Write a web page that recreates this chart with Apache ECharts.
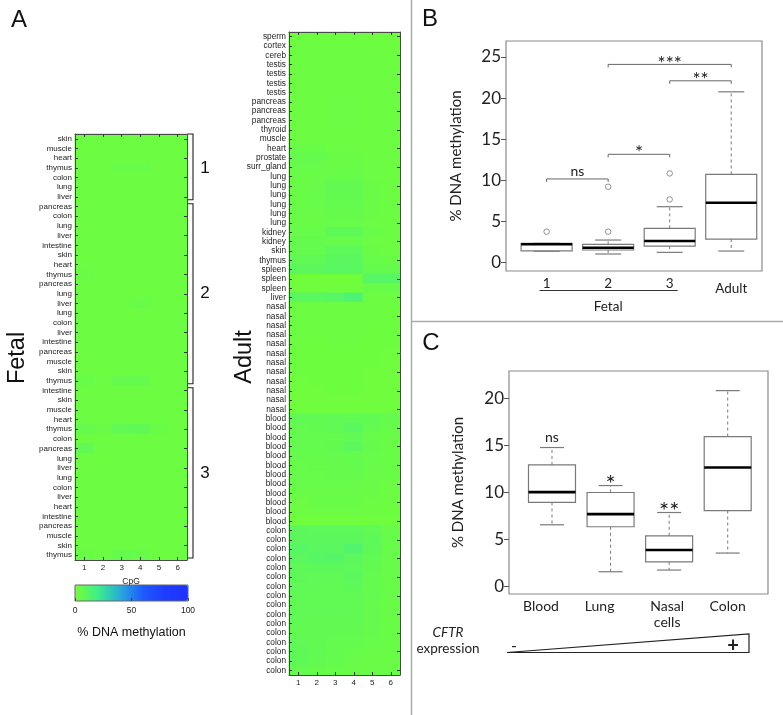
<!DOCTYPE html>
<html><head><meta charset="utf-8">
<script src="https://cdn.jsdelivr.net/npm/echarts@6/dist/echarts.min.js"></script>
<style>html,body{margin:0;padding:0;background:#fff}#c{width:783px;height:715px}</style>
</head><body><div id="c"></div>
<script>
// ---------------- DATA ----------------
const cpgLabels = ['1','2','3','4','5','6'];
const fetalRows = ['skin','muscle','heart','thymus','colon','lung','liver',
 'pancreas','colon','lung','liver','intestine','skin','heart','thymus','pancreas','lung','liver','lung','colon','liver','intestine','pancreas','muscle','skin','thymus',
 'intestine','skin','muscle','heart','thymus','colon','pancreas','lung','liver','lung','colon','liver','heart','intestine','pancreas','muscle','skin','thymus'];
const fetalGroupSizes = [7,19,18];
const fetalGroupLabels = ['1','2','3'];
const fetalValues = [
 [3,3,3,3,3,3],[3,3,3,3,3,3],[3,3,3,3.5,3,3],[3,3,4.5,5,3,3],[3,3,3,3,3,3],[3,3,3,3,3,3],[3,3,3,3,3,3],
 [3,3,3,3,3,3],[3,3,3,3,3,3],[3,3,3,3,3,3],[3,3,3,3,3,3],[3,3,3,3,3,3],[3,3,3,3,3,3],[3,3,3,3,3,3],[4,3,3,3,3,3],[3,3,3,3,3,3],[3,3,3,3,3,3],[3,3,3,5,3,3],[3,3,3,3,3,3],[3,3,3,3,3,3],[3,3,3,3,3,3],[3,3,3,3,3,3],[3,3,3,3,3,3],[3,3,3,3,3,3],[3,3,3,3,3,3],[5,3.5,6,6,3,3],
 [3,3,3,3,3,3],[3,3,3,3,3,3],[3,3,3,3,3,3],[3,3,3,3,3,3],[6,4,7,8,4,3],[3,3,3,3,3,3],[7,3.5,3,3,3,3],[3,3,3,3,3,3],[3,3,3,3,3,3],[3,3,3,3,3,3],[3,3,3,3,3,3],[3,3,3,3,3,3],[3,3,3,3,3,3],[3,3,3,3,3,3],[3,3,3,3,3,3],[3,3,3,3,3,3],[3,3,3,3,3,3],[4,3.5,6,5,3,3]
];
const adultRows = ['sperm','cortex','cereb','testis','testis','testis','testis','pancreas','pancreas','pancreas','thyroid','muscle','heart','prostate','surr_gland',
 'lung','lung','lung','lung','lung','lung','kidney','kidney','skin','thymus','spleen','spleen','spleen','liver',
 'nasal','nasal','nasal','nasal','nasal','nasal','nasal','nasal','nasal','nasal','nasal','nasal',
 'blood','blood','blood','blood','blood','blood','blood','blood','blood','blood','blood','blood',
 'colon','colon','colon','colon','colon','colon','colon','colon','colon','colon','colon','colon','colon','colon','colon','colon'];
const adultValues = [
 [2.5,2.5,3,3,2.5,2.5],[3,3,3,3,3,2.5],[3,3,3,3,3,2.5],[3,3,3,3,3,3],[3,3,3,3,3,3],[3,3,3,3,3,3],[3,3,3,3,3,3],
 [3,3,3.5,3.5,3,3],[3,3,3.5,3.5,3,3],[3,3,3.5,3.5,3,3],[3,3,3,3,3,3],[3,3,3,3,3,3],[4,4,3.5,3.5,3,3],[6,6,4,4,3,3],[5,5,4,4,3.5,3],
 [4,4,5,5,3.5,3],[4,5,6.5,6.5,4,3],[4,5,6.5,6.5,4,3],[4,5,6,6,4,3],[4,4.5,5.5,5.5,4,3],[4,4,5,5,3.5,3],
 [5,5,8,8,4,3],[6,6,5,5,3.5,3],[6,6,8.5,8.5,4,3],[7,7,9.5,9.5,5,4],[9,9,10,10,6,6],[1.5,1.5,1.5,1.5,11,11],[2,2,2,2,5,5],[10,10,11,14,3,3],
 [3,3,3,3,3,2.5],[3,3,3,3,3,2.5],[3,3,3,3,3,2.5],[3,3,3,3,2.5,2.5],[2.5,2.5,3,3,2.5,2.5],[2.5,2.5,2.5,2.5,2.5,2],[2.5,2.5,2.5,2.5,2.5,2],[2.5,2.5,2.5,2.5,2,2],[2,2.5,2.5,2.5,2,2],[2,2,2.5,2.5,2,2],[2,2,2,2,2,2],[2,2,2,2,2,2],
 [7,7,7,7,7,6],[6,6.5,7,10,6,5],[6,6,6,7,5,4],[6,6,6.5,9,5.5,4],[5.5,5.5,6,6,5,4],[5,5.5,5.5,6,5,4],[5,5,5.5,5.5,4.5,4],[5,5,5,5,4.5,3.5],[4,4,4.5,4.5,4,3],[3.5,4,4,4,3.5,3],[3,3.5,3.5,3.5,3,2.5],[2,2,2,2,2,2],
 [9,8.5,8.5,8.5,7,5],[9,9,9,9,8,5],[11,9.5,9.5,13,8,5],[9,11,12,9,7,5],[8,8.5,8.5,8.5,6.5,4.5],[8,7.5,7.5,9,6,4.5],[7.5,7,7,8,6,4.5],[7,7,7,7.5,6,4.5],
 [7,7,7,7,5.5,4],[7,7,7,7,5.5,4],[7,6.5,6.5,7,5.5,4],[6.5,6.5,6.5,6.5,5.5,4],[7.5,6.5,6,6,5,4],[8,7,6,5,4.5,4],[8,6.5,6,5,4.5,4],[6,5.5,5,4.5,4,4]
];
const colorScaleTicks = [0,50,100];

// Panel B
const bCats = ['1','2','3','Adult'];
const bMin = [1.35, 1.01, 1.21, 1.37];
const bQ1  = [1.40, 1.50, 1.98, 2.83];
const bMed = [2.19, 1.78, 2.59, 7.25];
const bQ3  = [2.31, 2.19, 4.13, 10.70];
const bMax = [2.31, 2.71, 6.77, 20.76];
const bOutlierGroup = [1, 2, 2, 3, 3];
const bOutlierValue = [3.73, 3.73, 9.2, 7.66, 10.82];
const bSigFrom = [1, 2, 2, 3];
const bSigTo   = [2, 3, 4, 4];
const bSigLevel = [10.15, 13.15, 24.1, 22.1];
const bSigText = ['ns', '*', '***', '**'];
const bTicks = [0,5,10,15,20,25];

// Panel C
const cCats = ['Blood', 'Lung', 'Nasal\ncells', 'Colon'];
const cMin = [6.52, 1.52, 1.70, 3.51];
const cQ1  = [8.90, 6.31, 2.58, 8.04];
const cMed = [10.0, 7.66, 3.83, 12.62];
const cQ3  = [12.9, 9.96, 5.35, 15.92];
const cMax = [14.75, 10.7, 7.83, 20.81];
const cSig = ['ns', '*', '**', ''];
const cTicks = [0,5,10,15,20];

// ---------------- CHART ----------------
const chart = echarts.init(document.getElementById('c'), null, {renderer: 'canvas'});
const HF = 'Liberation Sans';
const BF = 'Lato';

const fetalData = [];
fetalValues.forEach((row, r) => row.forEach((v, c) => fetalData.push([c, r, v])));
const adultData = [];
adultValues.forEach((row, r) => row.forEach((v, c) => adultData.push([c, r, v])));

function hmAxes(grid, rows, labelSize) {
  const tick = {show: true, inside: true, length: 3, alignWithLabel: true, lineStyle: {color: '#333'}};
  const line = {show: true, lineStyle: {color: '#4a4a4a', width: 1}};
  return {
    x: [
      {gridIndex: grid, type: 'category', data: cpgLabels, position: 'bottom', axisLine: line, axisTick: tick, z: 5,
       axisLabel: {fontFamily: HF, fontSize: 8, color: '#222', margin: 4}, splitLine: {show: false}},
      {gridIndex: grid, type: 'category', data: cpgLabels, position: 'top', axisLine: line, axisTick: tick, z: 5,
       axisLabel: {show: false}, splitLine: {show: false}}
    ],
    y: [
      {gridIndex: grid, type: 'category', data: rows, inverse: true, position: 'left', axisLine: line, axisTick: tick, z: 5,
       axisLabel: {fontFamily: HF, fontSize: labelSize, color: '#222', margin: 3, interval: 0}, splitLine: {show: false}},
      {gridIndex: grid, type: 'category', data: rows, inverse: true, position: 'right', axisLine: line, axisTick: tick, z: 5,
       axisLabel: {show: false}, splitLine: {show: false}}
    ]
  };
}
const fa = hmAxes(0, fetalRows, 8);
const aa = hmAxes(1, adultRows, 8.3);
fa.x[0].name = 'CpG'; fa.x[0].nameLocation = 'middle'; fa.x[0].nameGap = 14;
fa.x[0].nameTextStyle = {fontFamily: HF, fontSize: 8.5, color: '#222'};

function cellSeries(xi, yi, data) {
  return {
    type: 'custom', xAxisIndex: xi, yAxisIndex: yi, data: data, silent: true,
    renderItem: function (params, api) {
      const p = api.coord([api.value(0), api.value(1)]);
      const s = api.size([1, 1]);
      return {type: 'rect', shape: {x: p[0] - s[0] / 2 - 0.4, y: p[1] - s[1] / 2 - 0.4, width: s[0] + 0.8, height: s[1] + 0.8},
        style: {fill: api.visual('color'), stroke: null}};
    }
  };
}

function boxSeries(xi, yi, cats, mn, q1, md, q3, mx, halfW, capHalf, labelFont, labelDy, labelDx, sig, sigFont) {
  const data = cats.map((c, i) => [i + 1, mn[i], q1[i], md[i], q3[i], mx[i]]);
  return {
    type: 'custom', xAxisIndex: xi, yAxisIndex: yi, data: data, clip: false, silent: true,
    renderItem: function (params, api) {
      const i = params.dataIndex;
      const x = api.value(0);
      const pMin = api.coord([x, api.value(1)]);
      const pQ1 = api.coord([x, api.value(2)]);
      const pMed = api.coord([x, api.value(3)]);
      const pQ3 = api.coord([x, api.value(4)]);
      const pMax = api.coord([x, api.value(5)]);
      const cx = pMed[0];
      const gray = '#7a7a7a';
      const cs = params.coordSys;
      const children = [
        {type: 'line', shape: {x1: cx, y1: pQ3[1], x2: cx, y2: pMax[1]}, style: {stroke: gray, lineWidth: 1, lineDash: [3, 3]}},
        {type: 'line', shape: {x1: cx, y1: pQ1[1], x2: cx, y2: pMin[1]}, style: {stroke: gray, lineWidth: 1, lineDash: [3, 3]}},
        {type: 'line', shape: {x1: cx - capHalf, y1: pMax[1], x2: cx + capHalf, y2: pMax[1]}, style: {stroke: gray, lineWidth: 1.2}},
        {type: 'line', shape: {x1: cx - capHalf, y1: pMin[1], x2: cx + capHalf, y2: pMin[1]}, style: {stroke: gray, lineWidth: 1.2}},
        {type: 'rect', shape: {x: cx - halfW, y: pQ3[1], width: 2 * halfW, height: pQ1[1] - pQ3[1]}, style: {fill: '#fff', stroke: gray, lineWidth: 1.2}},
        {type: 'line', shape: {x1: cx - halfW, y1: pMed[1], x2: cx + halfW, y2: pMed[1]}, style: {stroke: '#000', lineWidth: 2.6}},
        {type: 'text', x: cx + labelDx[i], y: cs.y + cs.height + labelDy[i], style: {text: cats[i], fontFamily: BF, fontSize: labelFont, fill: '#222', align: 'center', verticalAlign: 'top', lineHeight: 16}}
      ];
      if (sig && sig[i]) {
        const isStar = sig[i].indexOf('*') >= 0;
        children.push({type: 'text', x: cx, y: pMax[1] - (isStar ? 1 : 10),
          style: {text: sig[i], fontFamily: BF, fontSize: isStar ? sigFont : 14, fill: '#222', align: 'center', verticalAlign: 'middle'}});
      }
      return {type: 'group', children: children};
    }
  };
}

function valueAxisY(grid, min, max, ticks, name, nameGap) {
  return {gridIndex: grid, type: 'value', min: min, max: max,
    axisLine: {show: false},
    axisTick: {show: true, inside: false, length: 5, customValues: ticks, lineStyle: {color: '#555'}},
    axisLabel: {customValues: ticks, fontFamily: BF, fontSize: 17, color: '#222', margin: 5},
    splitLine: {show: false},
    name: name, nameLocation: 'middle', nameGap: nameGap, nameRotate: 90,
    nameTextStyle: {fontFamily: BF, fontSize: 15, color: '#222'}};
}
function valueAxisX(grid, min, max) {
  return {gridIndex: grid, type: 'value', min: min, max: max, axisLine: {show: false}, axisTick: {show: false},
    axisLabel: {show: false}, splitLine: {show: false}};
}

const option = {
  animation: false,
  backgroundColor: '#fff',
  grid: [
    {left: 75, top: 134, width: 112, height: 426},
    {left: 289, top: 32, width: 111, height: 643},
    {left: 506, top: 41, width: 256, height: 230, show: true, borderColor: '#8a8a8a', borderWidth: 1.2, backgroundColor: 'transparent'},
    {left: 509, top: 371, width: 259, height: 223, show: true, borderColor: '#8a8a8a', borderWidth: 1.2, backgroundColor: 'transparent'},
    {left: 75, top: 585, width: 113, height: 16}
  ],
  xAxis: [fa.x[0], fa.x[1], aa.x[0], aa.x[1],
    valueAxisX(2, 0.34, 4.5), valueAxisX(3, 0.266, 4.688),
    {gridIndex: 4, type: 'value', min: 0, max: 100, interval: 50, z: 10,
     axisLine: {show: false}, axisTick: {show: true, inside: true, length: 3, lineStyle: {color: '#222'}},
     axisLabel: {fontFamily: HF, fontSize: 8.5, color: '#222', margin: 5}, splitLine: {show: false},
     name: '% DNA methylation', nameLocation: 'middle', nameGap: 25,
     nameTextStyle: {fontFamily: HF, fontSize: 12.5, color: '#111'}}
  ],
  yAxis: [fa.y[0], fa.y[1], aa.y[0], aa.y[1],
    valueAxisY(2, -1.06, 26.95, bTicks, '% DNA methylation', 42),
    valueAxisY(3, -0.85, 22.9, cTicks, '% DNA methylation', 43),
    {gridIndex: 4, type: 'value', min: 0, max: 1, show: false}
  ],
  visualMap: {
    type: 'continuous', min: 0, max: 100, dimension: 2, seriesIndex: [0, 1],
    orient: 'horizontal', left: 75, top: 585, itemWidth: 16, itemHeight: 113, padding: 0,
    calculable: false, hoverLink: false, text: null,
    inRange: {color: ['#74ff34', '#3eee8c', '#28aadc', '#1e5aff', '#1e3cff', '#1e32ff']}
  },
  series: [
    cellSeries(0, 0, fetalData),
    cellSeries(2, 2, adultData),
    boxSeries(4, 4, bCats, bMin, bQ1, bMed, bQ3, bMax, 25.5, 13, 13.5, [5, 5, 5, 10], [0, 0, 0, 0], null, 15),
    {type: 'scatter', xAxisIndex: 4, yAxisIndex: 4, silent: true, symbol: 'circle', symbolSize: 5.5,
     itemStyle: {color: '#fff', borderColor: '#777', borderWidth: 1},
     data: bOutlierGroup.map((g, i) => [g, bOutlierValue[i]])},
    {type: 'custom', xAxisIndex: 4, yAxisIndex: 4, silent: true, clip: false,
     data: bSigFrom.map((f, i) => [f, bSigTo[i], bSigLevel[i]]),
     renderItem: function (params, api) {
       const i = params.dataIndex;
       const p1 = api.coord([api.value(0), api.value(2)]);
       const p2 = api.coord([api.value(1), api.value(2)]);
       const isStar = bSigText[i].indexOf('*') >= 0;
       return {type: 'group', children: [
         {type: 'polyline', shape: {points: [[p1[0], p1[1] + 3], [p1[0], p1[1]], [p2[0], p1[1]], [p2[0], p1[1] + 3]]}, style: {stroke: '#666', lineWidth: 1, fill: null}},
         {type: 'text', x: (p1[0] + p2[0]) / 2, y: p1[1] - (isStar ? 1 : 7),
          style: {text: bSigText[i], fontFamily: BF, fontSize: isStar ? 19 : 14, fill: '#222', align: 'center', verticalAlign: 'middle'}}
       ]};
     }},
    boxSeries(5, 5, cCats, cMin, cQ1, cMed, cQ3, cMax, 23.5, 12, 14, [4, 4, 4, 4], [-11, -11, -2, 0], cSig, 24)
  ],
  graphic: []
};

chart.setOption(option);

// ---------- annotations ----------
const g = [];
g.push({type: 'line', shape: {x1: 411.5, y1: 0, x2: 411.5, y2: 715}, style: {stroke: '#aaa', lineWidth: 1.5}});
g.push({type: 'line', shape: {x1: 411.5, y1: 321.5, x2: 783, y2: 321.5}, style: {stroke: '#aaa', lineWidth: 1.5}});
g.push({type: 'text', x: 19, y: 20, style: {text: 'A', fontFamily: HF, fontSize: 24, fill: '#111', align: 'center', verticalAlign: 'middle'}});
g.push({type: 'text', x: 430, y: 19, style: {text: 'B', fontFamily: HF, fontSize: 24, fill: '#111', align: 'center', verticalAlign: 'middle'}});
g.push({type: 'text', x: 431, y: 343, style: {text: 'C', fontFamily: HF, fontSize: 24, fill: '#111', align: 'center', verticalAlign: 'middle'}});
g.push({type: 'text', x: 18, y: 358, rotation: Math.PI / 2, style: {text: 'Fetal', fontFamily: HF, fontSize: 23.5, fill: '#111', align: 'center', verticalAlign: 'middle'}});
g.push({type: 'text', x: 245, y: 357, rotation: Math.PI / 2, style: {text: 'Adult', fontFamily: HF, fontSize: 23.5, fill: '#111', align: 'center', verticalAlign: 'middle'}});
let start = 0;
fetalGroupSizes.forEach((n, k) => {
  const top = chart.convertToPixel({gridIndex: 0}, [0, start])[1] - 426 / 44 / 2;
  const bot = chart.convertToPixel({gridIndex: 0}, [0, start + n - 1])[1] + 426 / 44 / 2;
  const yt = top + (k === 0 ? 0 : 2), yb = bot - 2;
  g.push({type: 'polyline', shape: {points: [[188, yt], [193, yt], [193, yb], [188, yb]]}, style: {stroke: '#222', lineWidth: 1.1, fill: null}});
  g.push({type: 'text', x: 205, y: (top + bot) / 2, style: {text: fetalGroupLabels[k], fontFamily: HF, fontSize: 17, fill: '#111', align: 'center', verticalAlign: 'middle'}});
  start += n;
});
g.push({type: 'rect', z: 100, shape: {x: 75, y: 585, width: 113, height: 16}, style: {fill: null, stroke: '#666', lineWidth: 1}});
const pb1 = chart.convertToPixel({gridIndex: 2}, [1, 0]);
const pb3 = chart.convertToPixel({gridIndex: 2}, [3, 0]);
g.push({type: 'line', shape: {x1: pb1[0] - 7, y1: 290.5, x2: pb3[0] + 8, y2: 290.5}, style: {stroke: '#333', lineWidth: 1}});
g.push({type: 'text', x: (pb1[0] + pb3[0]) / 2, y: 307, style: {text: 'Fetal', fontFamily: BF, fontSize: 13.5, fill: '#222', align: 'center', verticalAlign: 'middle'}});
g.push({type: 'text', x: 448, y: 633, style: {text: 'CFTR', fontFamily: BF, fontStyle: 'italic', fontSize: 13.5, fill: '#222', align: 'center', verticalAlign: 'middle'}});
g.push({type: 'text', x: 448, y: 649, style: {text: 'expression', fontFamily: BF, fontSize: 13.5, fill: '#222', align: 'center', verticalAlign: 'middle'}});
g.push({type: 'polygon', shape: {points: [[507, 652.5], [749, 634], [749, 652.5]]}, style: {fill: null, stroke: '#222', lineWidth: 1.2}});
g.push({type: 'text', x: 514, y: 646, style: {text: '-', fontFamily: BF, fontSize: 16, fill: '#222', align: 'center', verticalAlign: 'middle'}});
g.push({type: 'text', x: 733, y: 646, style: {text: '+', fontFamily: BF, fontSize: 20, fontWeight: 'bold', fill: '#222', align: 'center', verticalAlign: 'middle'}});

chart.setOption({graphic: g});
</script>
</body></html>
